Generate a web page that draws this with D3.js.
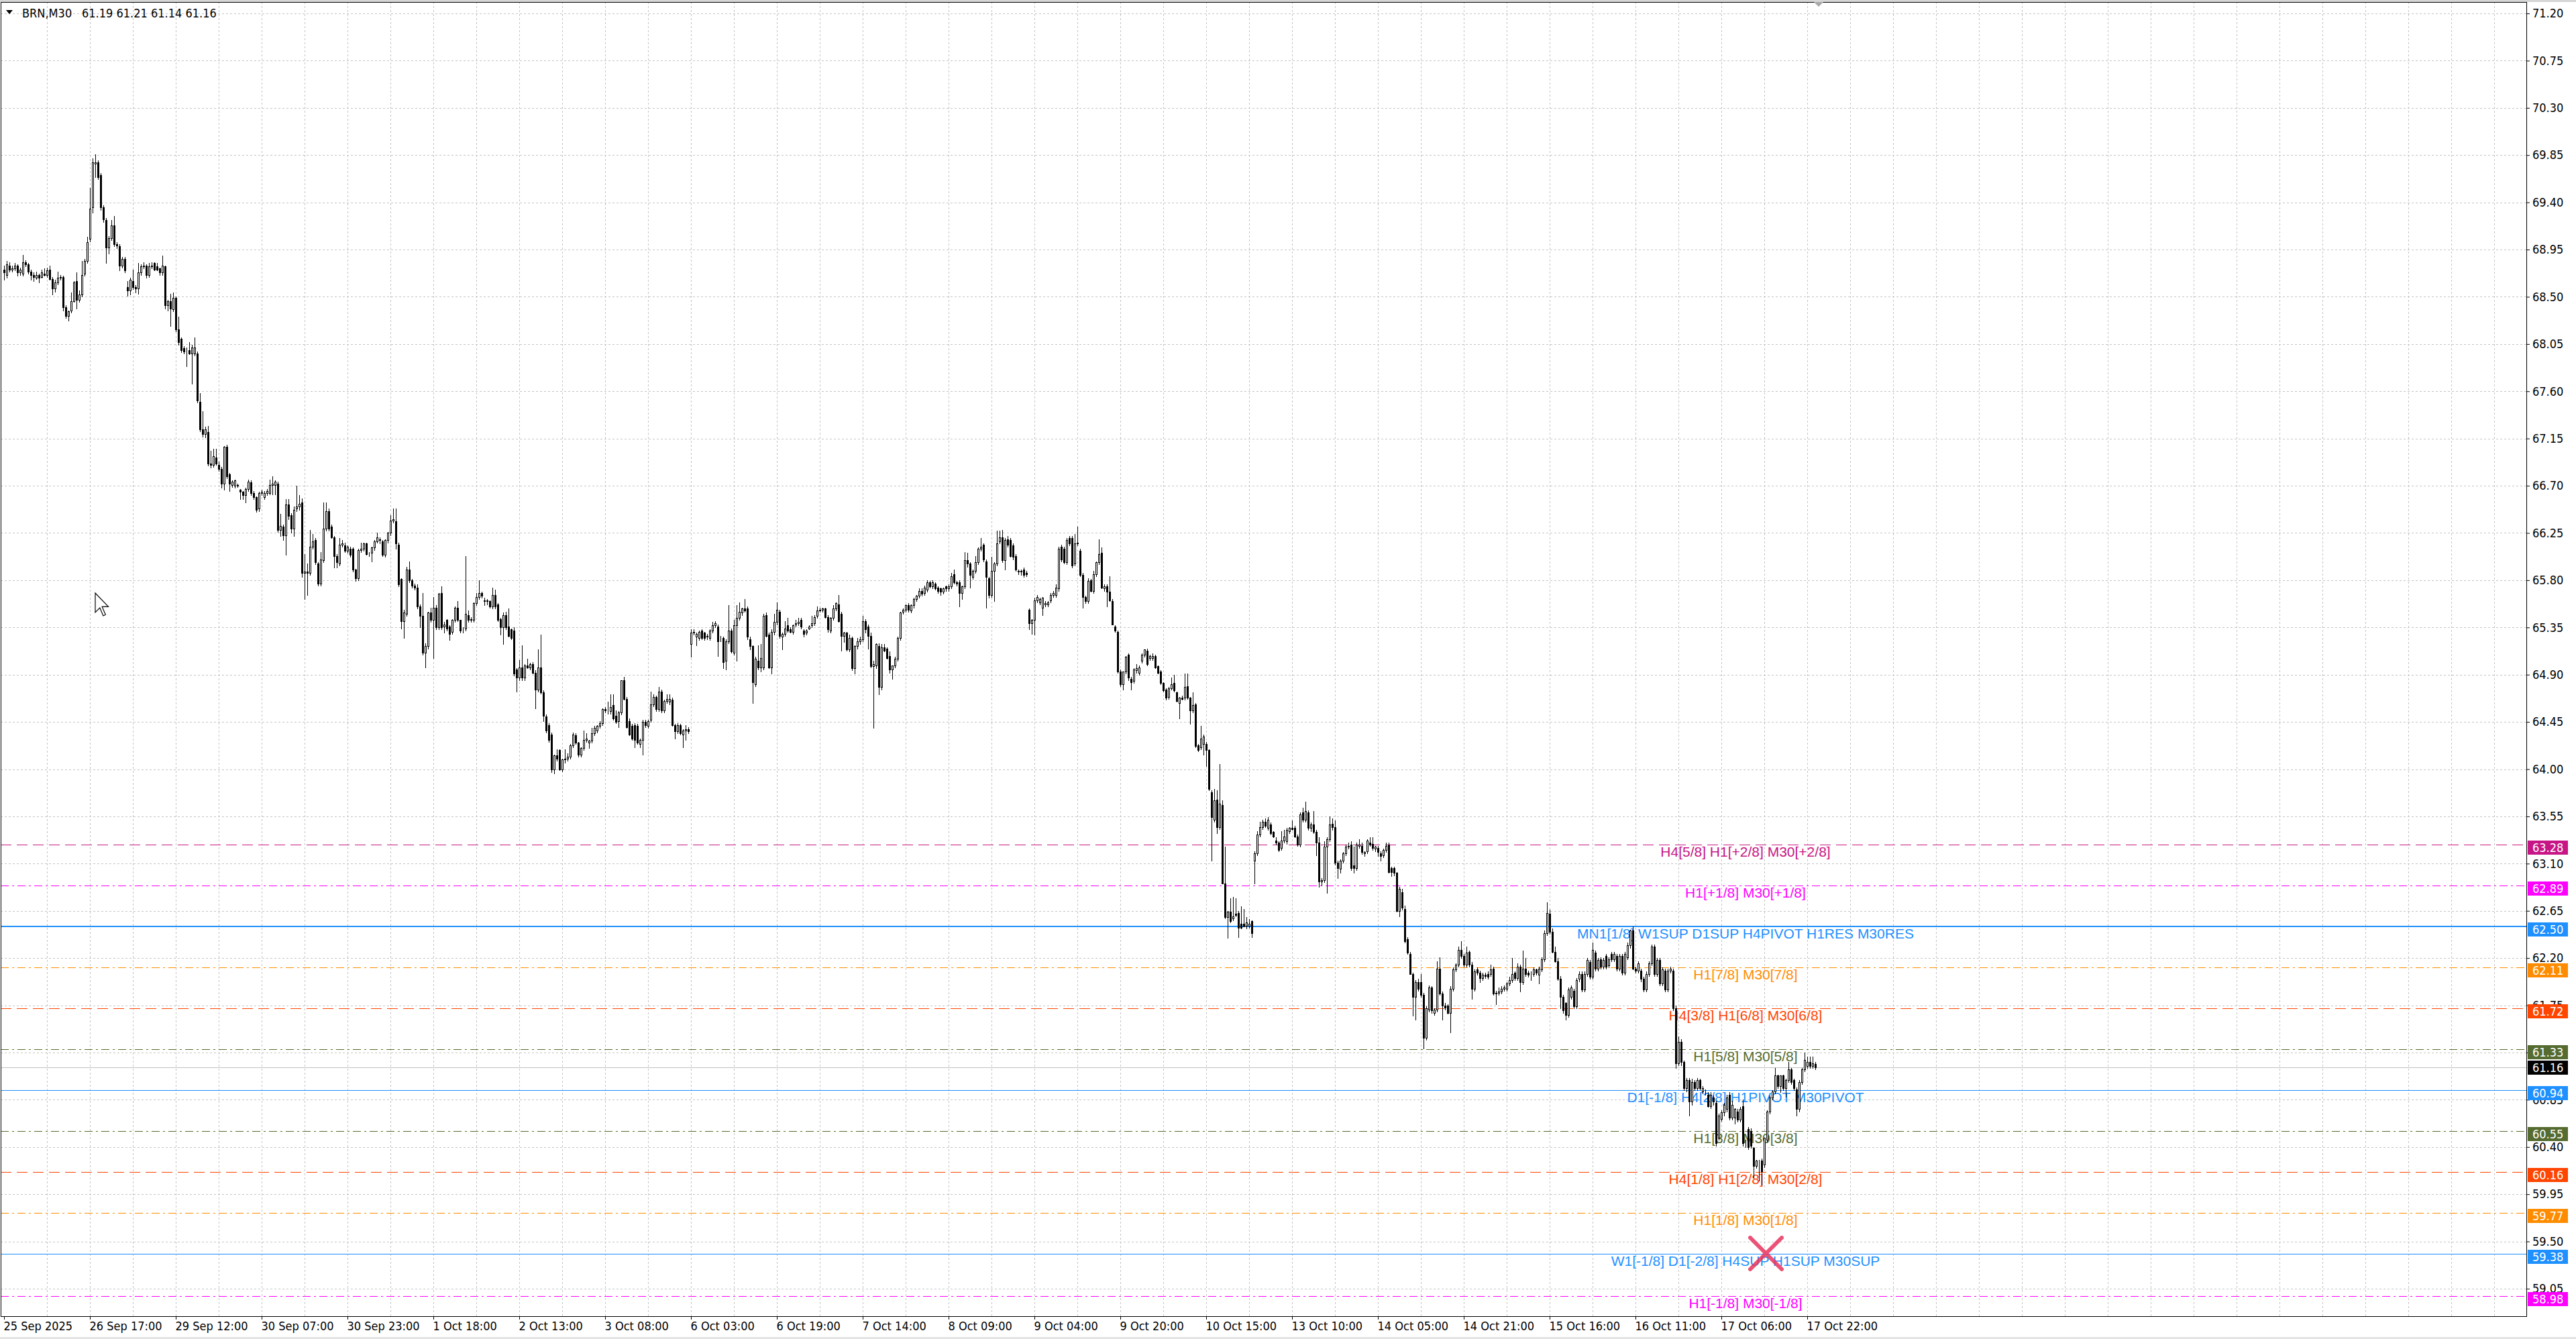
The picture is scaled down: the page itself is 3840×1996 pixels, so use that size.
<!DOCTYPE html>
<html>
<head>
<meta charset="utf-8">
<script src="https://cdn.jsdelivr.net/npm/d3@7"></script>
<style>
  html, body { margin: 0; padding: 0; background: #fff; }
  svg { display: block; }
</style>
</head>
<body>
<script>
// BRN, M30 candles: [open, high, low, close]
const candles01 = [
  [68.76,68.80,68.66,68.73],[68.71,68.84,68.68,68.81],[68.80,68.83,68.74,68.76],[68.76,68.80,68.74,68.77],[68.77,68.82,68.75,68.80],
  [68.80,68.81,68.70,68.73],[68.73,68.78,68.71,68.76],[68.72,68.90,68.70,68.83],[68.83,68.85,68.79,68.81],[68.81,68.82,68.72,68.74],
  [68.74,68.76,68.66,68.71],[68.71,68.73,68.65,68.69],[68.68,68.74,68.67,68.71],[68.71,68.72,68.64,68.68],[68.69,68.76,68.68,68.73],
  [68.72,68.77,68.70,68.71],[68.71,68.78,68.69,68.75],[68.76,68.80,68.66,68.67],[68.67,68.69,68.52,68.58],[68.58,68.66,68.55,68.64],
  [68.64,68.74,68.62,68.68],[68.68,68.71,68.66,68.69],[68.69,68.70,68.37,68.40],[68.40,68.42,68.30,68.32],[68.32,68.37,68.27,68.36],
  [68.37,68.54,68.35,68.46],[68.46,68.65,68.45,68.64],[68.65,68.73,68.39,68.47],[68.47,68.56,68.45,68.52],[68.52,68.84,68.50,68.71],
  [68.72,68.86,68.70,68.84],[68.84,69.07,68.82,69.02],[69.05,69.54,69.03,69.34],[69.35,69.82,69.30,69.78],[69.77,69.86,69.64,69.78],
  [69.78,69.80,69.62,69.64],[69.66,69.68,69.33,69.35],[69.35,69.37,69.21,69.24],[69.23,69.25,68.82,68.97],[68.97,69.08,68.91,69.06],
  [69.06,69.23,69.04,69.18],[69.18,69.27,68.98,69.00],[69.00,69.02,68.96,68.99],[68.98,69.00,68.75,68.80],[68.80,68.88,68.78,68.86],
  [68.86,68.88,68.73,68.75]
];
const candles02 = [
  [68.59,68.65,68.51,68.56],[68.56,68.68,68.52,68.66],[68.65,68.76,68.57,68.59],[68.59,68.61,68.54,68.58],[68.58,68.82,68.53,68.73],
  [68.73,68.81,68.71,68.79],[68.79,68.83,68.77,68.80],[68.80,68.81,68.68,68.71],[68.71,68.82,68.69,68.79],[68.79,68.83,68.77,68.80],
  [68.82,68.83,68.75,68.76],[68.79,68.82,68.75,68.76],[68.77,68.78,68.71,68.73],[68.73,68.89,68.71,68.80],[68.79,68.80,68.39,68.42],
  [68.42,68.47,68.37,68.46],[68.46,68.53,68.22,68.39],[68.38,68.54,68.36,68.49],[68.49,68.50,68.17,68.19],[68.19,68.31,68.04,68.07],
  [68.10,68.11,67.97,67.99],[68.01,68.03,67.96,67.98],[67.99,68.02,67.84,67.99],[67.99,68.07,67.95,67.96],[67.96,68.04,67.67,68.02],
  [67.96,68.11,67.94,68.02],[67.96,67.98,67.49,67.51],[67.50,67.58,67.22,67.24],[67.24,67.41,67.17,67.19],[67.19,67.26,67.16,67.24],
  [67.21,67.27,66.89,66.91],[66.91,67.03,66.87,66.90],[66.90,67.05,66.88,66.98],[66.97,67.05,66.90,66.91],[66.90,66.93,66.84,66.86],
  [66.86,66.88,66.68,66.72],[66.72,67.08,66.66,67.07],[67.07,67.09,66.77,66.79],[66.81,66.82,66.65,66.72],[66.71,66.75,66.69,66.74],
  [66.70,66.76,66.68,66.75],[66.71,66.72,66.69,66.70],[66.66,66.67,66.57,66.64],[66.64,66.65,66.57,66.61],[66.61,66.68,66.54,66.67],
  [66.67,66.76,66.65,66.74],[66.73,66.75,66.61,66.63],[66.63,66.65,66.57,66.59],[66.59,66.60,66.45,66.47],[66.48,66.64,66.46,66.63],
  [66.63,66.66,66.61,66.64],[66.59,66.65,66.57,66.63],[66.63,66.67,66.61,66.65],[66.63,66.76,66.62,66.71],[66.71,66.79,66.62,66.72]
];
const candles03 = [
  [66.71,66.75,66.62,66.74],[66.72,66.74,66.26,66.28],[66.28,66.43,66.22,66.32],[66.31,66.33,66.18,66.23],[66.23,66.57,66.04,66.52],
  [66.52,66.57,66.38,66.41],[66.42,66.44,66.25,66.29],[66.29,66.50,66.22,66.47],[66.48,66.70,66.46,66.50],[66.50,66.61,66.47,66.53],
  [66.54,66.58,65.83,65.87],[65.87,66.05,65.62,65.88],[65.88,65.96,65.66,65.87],[65.87,66.28,65.85,66.12],[66.12,66.24,66.10,66.17],
  [66.18,66.20,65.95,65.97],[65.96,65.97,65.75,65.77],[65.77,66.07,65.75,66.00],[65.99,66.54,65.97,66.29],[66.29,66.54,66.27,66.46],
  [66.46,66.48,66.27,66.29],[66.31,66.33,66.20,66.21],[66.21,66.22,65.92,66.03],[66.03,66.05,65.92,65.97],[65.96,66.20,65.94,66.14],
  [66.14,66.18,66.12,66.15],[66.13,66.16,66.07,66.08],[66.08,66.13,66.06,66.12],[66.10,66.12,66.02,66.04],[66.10,66.11,65.88,65.90],
  [65.90,65.91,65.79,65.82],[65.82,66.10,65.80,66.09],[66.09,66.16,66.07,66.10],[66.10,66.16,66.08,66.15],[66.15,66.16,66.04,66.05],
  [66.06,66.07,66.03,66.06],[66.06,66.12,65.98,66.11],[66.11,66.18,66.09,66.17],[66.17,66.25,66.16,66.21],[66.18,66.21,66.15,66.19],
  [66.17,66.18,66.03,66.04],[66.04,66.19,66.02,66.18],[66.18,66.26,66.16,66.25],[66.25,66.42,66.23,66.37],[66.37,66.48,66.35,66.38],
  [66.36,66.48,66.10,66.15],[66.14,66.16,65.74,65.76],[65.81,65.82,65.34,65.41],[65.41,65.52,65.25,65.49],[65.48,65.93,65.46,65.90]
];
const candles04 = [
  [65.90,65.98,65.78,65.80],[65.80,65.81,65.73,65.75],[65.75,65.77,65.71,65.73],[65.73,65.76,65.53,65.55],[65.55,65.57,65.35,65.46],
  [65.46,65.68,65.09,65.11],[65.11,65.20,64.97,65.17],[65.17,65.50,65.15,65.49],[65.49,65.54,65.40,65.42],[65.42,65.64,65.06,65.54],
  [65.54,65.56,65.33,65.35],[65.35,65.68,65.33,65.67],[65.68,65.74,65.33,65.35],[65.36,65.40,65.30,65.38],[65.42,65.43,65.32,65.34],
  [65.36,65.37,65.23,65.29],[65.31,65.43,65.29,65.42],[65.42,65.55,65.40,65.54],[65.54,65.60,65.41,65.42],[65.42,65.42,65.30,65.32],
  [65.33,65.35,65.30,65.33],[65.34,66.03,65.32,65.48],[65.47,65.51,65.40,65.42],[65.42,65.45,65.40,65.43],[65.42,65.59,65.40,65.58],
  [65.58,65.68,65.56,65.64],[65.64,65.80,65.62,65.68],[65.68,65.69,65.63,65.65],[65.60,65.63,65.56,65.61],[65.60,65.62,65.57,65.61],
  [65.60,65.61,65.54,65.55],[65.55,65.73,65.53,65.66],[65.66,65.71,65.53,65.55],[65.57,65.58,65.41,65.42],[65.43,65.44,65.28,65.35],
  [65.35,65.49,65.19,65.47],[65.47,65.50,65.33,65.35],[65.36,65.53,65.26,65.27],[65.33,65.34,65.24,65.25],[65.32,65.35,64.89,64.91],
  [64.95,64.96,64.74,64.87],[64.87,65.04,64.85,64.97],[64.97,65.18,64.85,64.87],[64.87,65.00,64.85,64.99],[64.99,65.05,64.96,64.97],
  [64.97,65.01,64.95,65.00],[65.00,65.02,64.91,64.92],[64.92,64.94,64.58,64.76],[64.76,65.14,64.74,64.97],[64.97,65.28,64.72,64.73]
];
const candles05 = [
  [64.73,64.75,64.46,64.51],[64.50,64.52,64.35,64.37],[64.42,64.44,64.26,64.28],[64.33,64.35,63.97,64.00],[64.00,64.14,63.96,64.13],
  [64.13,64.19,64.08,64.10],[64.18,64.19,63.99,64.00],[64.00,64.10,63.98,64.09],[64.09,64.19,64.06,64.10],[64.10,64.15,64.08,64.12],
  [64.12,64.24,64.10,64.23],[64.23,64.35,64.21,64.33],[64.32,64.34,64.24,64.25],[64.25,64.26,64.12,64.14],[64.14,64.21,64.12,64.20],
  [64.20,64.37,64.18,64.28],[64.28,64.34,64.26,64.29],[64.25,64.28,64.20,64.27],[64.27,64.39,64.25,64.34],[64.34,64.41,64.32,64.39],
  [64.37,64.42,64.35,64.41],[64.41,64.46,64.39,64.44],[64.44,64.58,64.42,64.57],[64.57,64.59,64.54,64.56],[64.55,64.64,64.53,64.55],
  [64.55,64.71,64.53,64.59],[64.61,64.71,64.47,64.48],[64.51,64.56,64.44,64.45],[64.46,64.55,64.40,64.54],[64.54,64.85,64.52,64.85],
  [64.85,64.88,64.66,64.67],[64.67,64.69,64.39,64.40],[64.46,64.48,64.32,64.33],[64.41,64.43,64.28,64.29],[64.42,64.44,64.21,64.28],
  [64.41,64.43,64.24,64.25],[64.24,64.29,64.21,64.28],[64.28,64.47,64.14,64.45],[64.45,64.47,64.40,64.42],[64.41,64.47,64.39,64.46],
  [64.47,64.74,64.45,64.62],[64.62,64.71,64.60,64.69],[64.69,64.70,64.55,64.57],[64.57,64.78,64.55,64.74],[64.74,64.76,64.54,64.56],
  [64.56,64.66,64.54,64.65],[64.65,64.71,64.63,64.67],[64.64,64.71,64.62,64.67],[64.66,64.68,64.41,64.42],[64.42,64.43,64.29,64.36],
  [64.36,64.44,64.34,64.42],[64.42,64.43,64.33,64.34],[64.33,64.38,64.21,64.37],[64.37,64.42,64.28,64.38],[64.38,64.40,64.34,64.36]
];
const candles06 = [
  [65.19,65.33,65.07,65.30],[65.30,65.33,65.28,65.31],[65.26,65.30,65.18,65.29],[65.25,65.32,65.23,65.31],[65.32,65.33,65.24,65.25],
  [65.30,65.31,65.23,65.25],[65.26,65.29,65.24,65.27],[65.25,65.33,65.23,65.32],[65.32,65.40,65.30,65.37],[65.37,65.41,65.35,65.39],
  [65.36,65.38,65.08,65.22],[65.25,65.27,65.22,65.25],[65.25,65.26,64.96,65.02],[65.03,65.24,64.95,65.22],[65.22,65.56,65.20,65.32],
  [65.32,65.34,65.11,65.12],[65.11,65.42,65.09,65.37],[65.37,65.56,65.03,65.44],[65.44,65.59,65.42,65.50],[65.49,65.54,65.47,65.53],
  [65.53,65.62,65.50,65.51],[65.53,65.55,65.24,65.26],[65.24,65.26,65.14,65.17],[65.17,65.18,64.63,64.83],[64.81,65.07,64.79,65.05],
  [65.03,65.18,64.95,64.97],[64.97,65.19,64.93,65.06],[64.97,65.48,64.95,65.46],[65.47,65.49,65.26,65.27],[65.28,65.30,64.96,64.97],
  [64.97,65.33,64.91,65.31],[65.31,65.48,65.28,65.40],[65.40,65.59,65.38,65.52],[65.50,65.52,65.25,65.27],[65.26,65.30,65.14,65.29],
  [65.29,65.41,65.27,65.34],[65.37,65.44,65.31,65.32],[65.33,65.35,65.30,65.31],[65.31,65.38,65.29,65.37],[65.38,65.42,65.36,65.39],
  [65.39,65.44,65.37,65.40],[65.42,65.44,65.34,65.36],[65.32,65.33,65.26,65.29],[65.30,65.33,65.28,65.32],[65.34,65.37,65.33,65.36],
  [65.37,65.46,65.35,65.39],[65.39,65.47,65.37,65.45],[65.46,65.55,65.44,65.51],[65.51,65.54,65.50,65.52],[65.52,65.54,65.50,65.53],
  [65.53,65.54,65.44,65.45],[65.45,65.47,65.31,65.33],[65.32,65.45,65.30,65.44],[65.44,65.56,65.42,65.53],[65.53,65.59,65.51,65.58]
];
const candles07 = [
  [65.57,65.66,65.40,65.41],[65.48,65.50,65.13,65.27],[65.27,65.31,65.21,65.30],[65.30,65.31,65.13,65.14],[65.14,65.28,65.12,65.25],
  [65.25,65.26,64.94,64.96],[64.96,65.18,64.91,65.17],[65.17,65.25,65.15,65.22],[65.22,65.26,65.19,65.24],[65.24,65.46,65.22,65.41],
  [65.41,65.43,65.30,65.33],[65.36,65.38,65.15,65.27],[65.27,65.30,64.97,64.98],[64.98,65.03,64.39,65.00],[64.99,65.20,64.96,65.19],
  [65.17,65.20,64.71,64.78],[64.78,65.19,64.76,65.16],[65.16,65.19,65.12,65.13],[65.15,65.16,65.05,65.06],[65.08,65.12,64.92,64.95],
  [64.95,64.99,64.86,64.99],[64.99,65.07,64.97,65.05],[65.05,65.26,65.03,65.25],[65.25,65.50,65.23,65.49],[65.50,65.53,65.48,65.52],
  [65.52,65.57,65.50,65.56],[65.56,65.58,65.50,65.52],[65.51,65.57,65.49,65.56],[65.56,65.63,65.54,65.62],[65.62,65.66,65.60,65.65],
  [65.65,65.72,65.63,65.70],[65.70,65.72,65.65,65.67],[65.68,65.75,65.66,65.73],[65.71,65.80,65.69,65.78],[65.78,65.79,65.73,65.74],
  [65.74,65.80,65.72,65.78],[65.77,65.78,65.71,65.72],[65.73,65.74,65.68,65.70],[65.72,65.73,65.66,65.69],[65.69,65.73,65.67,65.72],
  [65.74,65.75,65.70,65.72],[65.72,65.76,65.70,65.74],[65.74,65.87,65.72,65.84],[65.86,65.90,65.77,65.78],[65.78,65.79,65.75,65.77],
  [65.78,65.80,65.55,65.68],[65.68,65.75,65.62,65.74],[65.74,66.07,65.72,65.99],[65.99,66.06,65.93,65.96],[65.96,65.97,65.73,65.85],
  [65.83,65.90,65.81,65.89],[65.89,66.03,65.87,65.97],[65.97,66.11,65.95,66.10],[66.10,66.20,66.08,66.12],[66.14,66.15,65.98,66.00],
  [65.98,66.00,65.54,65.83],[65.82,65.83,65.63,65.66],[65.66,66.02,65.64,65.89],[65.89,65.97,65.60,65.96],[65.96,66.27,65.94,66.15],
  [66.17,66.27,66.15,66.21],[66.21,66.28,65.97,65.99],[65.99,66.20,65.90,66.18],[66.19,66.22,66.12,66.14],[66.18,66.20,66.02,66.03],
  [66.13,66.15,66.00,66.02],[66.03,66.05,65.89,65.90],[65.89,65.90,65.86,65.88],[65.88,65.90,65.85,65.89],[65.90,65.92,65.83,65.85],
  [65.87,65.89,65.84,65.86]
];
const candles08 = [
  [65.52,65.53,65.33,65.39],[65.39,65.43,65.29,65.42],[65.42,65.63,65.28,65.61],[65.61,65.66,65.59,65.64],[65.59,65.63,65.57,65.62],
  [65.54,65.64,65.47,65.63],[65.57,65.60,65.55,65.58],[65.57,65.60,65.55,65.59],[65.61,65.68,65.59,65.66],[65.66,65.70,65.64,65.68],
  [65.66,65.76,65.64,65.73],[65.72,66.12,65.70,66.10],[66.12,66.14,65.98,66.00],[66.10,66.12,65.96,65.97],[65.97,66.20,65.95,66.18],
  [66.20,66.22,66.13,66.15],[66.20,66.22,65.92,65.94],[65.96,66.24,65.94,66.15],[66.15,66.31,66.13,66.16],[66.08,66.10,65.84,65.85],
  [65.85,65.87,65.54,65.64],[65.64,65.65,65.58,65.60],[65.60,65.82,65.58,65.79],[65.80,65.81,65.69,65.70],[65.70,65.89,65.68,65.86],
  [65.86,65.98,65.84,65.97],[65.97,66.19,65.95,66.05],[66.06,66.11,65.72,65.73],[65.72,65.76,65.70,65.74],[65.74,65.76,65.55,65.69],
  [65.69,65.84,65.60,65.61],[65.60,65.62,65.38,65.38],[65.36,65.37,65.31,65.32],[65.31,65.32,64.92,64.93],[64.93,64.95,64.79,64.81],
  [64.81,64.93,64.76,64.93],[64.93,65.08,64.91,65.07],[65.09,65.10,64.85,64.87],[64.86,64.88,64.76,64.83],[64.84,64.96,64.82,64.95],
  [64.94,65.00,64.92,64.96],[64.92,64.99,64.90,64.97],[65.03,65.10,65.01,65.09],[65.09,65.14,65.07,65.14],[65.13,65.15,64.99,65.00],
  [65.06,65.09,65.04,65.08],[65.06,65.10,65.04,65.08],[65.08,65.09,64.96,64.97],[64.98,64.99,64.91,64.92],[64.93,64.94,64.81,64.82],
  [64.82,64.83,64.74,64.75],[64.76,64.77,64.66,64.68]
];
const candles09 = [
  [64.69,64.78,64.67,64.77],[64.77,64.87,64.76,64.81],[64.82,64.90,64.74,64.75],[64.73,64.74,64.64,64.65],[64.63,64.69,64.48,64.68],
  [64.68,64.70,64.66,64.67],[64.68,64.91,64.66,64.78],[64.79,64.91,64.67,64.68],[64.68,64.69,64.43,64.56],[64.56,64.73,64.54,64.61],
  [64.62,64.63,64.21,64.22],[64.23,64.24,64.17,64.18],[64.21,64.41,64.19,64.29],[64.24,64.33,64.14,64.31],[64.24,64.26,64.03,64.18],
  [64.18,64.19,63.80,63.81],[63.78,63.80,63.13,63.54],[63.52,63.81,63.50,63.70],[63.71,63.80,63.39,63.45],[63.45,64.05,63.43,63.67],
  [63.66,63.70,62.91,62.91],[62.91,63.26,62.58,62.59],[62.59,62.65,62.39,62.64],[62.64,62.77,62.54,62.55],[62.58,62.78,62.56,62.60],
  [62.62,62.77,62.60,62.61],[62.63,62.65,62.40,62.49],[62.53,62.69,62.48,62.49],[62.53,62.67,62.50,62.50],[62.51,62.59,62.48,62.54],
  [62.51,62.57,62.49,62.53],[62.55,62.56,62.40,62.44]
];
const candles10 = [
  [63.13,63.22,62.91,63.20],[63.20,63.41,63.18,63.38],[63.38,63.50,63.36,63.45],[63.45,63.52,63.43,63.50],[63.50,63.53,63.45,63.46],
  [63.44,63.54,63.42,63.52],[63.47,63.49,63.38,63.39],[63.40,63.41,63.35,63.36],[63.32,63.35,63.28,63.30],[63.30,63.31,63.22,63.23],
  [63.25,63.41,63.23,63.32],[63.32,63.42,63.30,63.36],[63.31,63.44,63.29,63.42],[63.41,63.45,63.39,63.44],[63.44,63.51,63.42,63.43],
  [63.44,63.46,63.35,63.36],[63.36,63.38,63.27,63.28],[63.28,63.59,63.26,63.57],[63.59,63.63,63.50,63.52],[63.52,63.69,63.50,63.60],
  [63.59,63.61,63.42,63.44],[63.44,63.49,63.41,63.47],[63.47,63.60,63.39,63.40],[63.40,63.42,63.18,63.30],[63.30,63.35,62.88,62.93],
  [62.93,62.96,62.89,62.94],[62.94,63.31,62.92,63.26],[63.26,63.35,62.82,63.33],[63.33,63.55,63.31,63.47],[63.48,63.53,63.42,63.45],
  [63.45,63.51,63.09,63.11],[63.11,63.13,62.96,63.06],[63.05,63.14,63.01,63.13],[63.13,63.21,63.11,63.20],[63.20,63.28,63.18,63.26],
  [63.26,63.30,63.24,63.27],[63.28,63.31,63.04,63.06],[63.08,63.26,63.01,63.06],[63.06,63.30,63.04,63.28],[63.27,63.33,63.25,63.28],
  [63.27,63.30,63.19,63.21],[63.20,63.22,63.17,63.21],[63.22,63.33,63.20,63.32],[63.30,63.35,63.27,63.28],[63.29,63.35,63.23,63.25],
  [63.24,63.27,63.22,63.26],[63.25,63.27,63.17,63.21],[63.20,63.22,63.13,63.17],[63.18,63.24,63.16,63.23],[63.23,63.30,63.21,63.27],
  [63.28,63.30,63.01,63.02],[63.06,63.07,62.98,63.02],[63.06,63.07,62.99,63.01],[63.01,63.02,62.64,62.65],[62.65,62.88,62.60,62.86]
];
const candles11 = [
  [62.83,62.86,62.66,62.68],[62.67,62.70,62.35,62.36],[62.38,62.40,62.24,62.25],[62.24,62.26,62.05,62.05],[62.05,62.06,61.65,61.83],
  [61.83,61.99,61.61,61.97],[61.97,62.00,61.89,61.91],[61.97,62.05,61.83,61.85],[61.85,61.87,61.34,61.44],[61.44,61.74,61.42,61.72],
  [61.71,61.94,61.69,61.92],[61.92,61.93,61.68,61.70],[61.68,61.72,61.66,61.71],[61.71,62.17,61.69,62.10],[62.10,62.21,61.85,61.86],
  [61.86,61.88,61.61,61.75],[61.75,61.77,61.71,61.73],[61.75,61.76,61.67,61.68],[61.68,61.93,61.49,61.91],[61.91,62.11,61.89,62.09],
  [62.09,62.15,62.07,62.14],[62.14,62.31,62.12,62.28],[62.28,62.36,62.20,62.22],[62.22,62.24,62.12,62.14],[62.14,62.31,62.12,62.25],
  [62.26,62.27,62.12,62.14],[62.14,62.16,61.81,61.91],[61.91,62.09,61.89,62.07],[62.09,62.11,62.04,62.06],[62.06,62.08,61.97,62.01],
  [62.01,62.06,61.99,62.04],[62.04,62.06,62.01,62.03],[62.05,62.07,62.00,62.02],[62.05,62.14,62.03,62.09],[62.10,62.12,61.85,61.86],
  [61.87,61.89,61.76,61.86],[61.87,61.92,61.85,61.88],[61.88,61.93,61.86,61.91],[61.91,61.94,61.89,61.92],[61.91,61.97,61.89,61.96],
  [61.96,62.02,61.94,61.99],[61.99,62.20,61.97,62.05],[62.06,62.07,61.99,62.01],[62.01,62.15,61.99,62.12],[62.12,62.14,61.88,61.97],
  [61.97,62.27,61.95,62.10],[62.10,62.20,62.03,62.05],[62.06,62.08,62.02,62.04],[62.05,62.07,61.99,62.05],[62.05,62.11,62.03,62.09],
  [62.09,62.10,62.04,62.06],[62.04,62.12,61.96,62.10],[62.09,62.21,62.07,62.19],[62.19,62.46,62.17,62.44],[62.44,62.73,62.42,62.63],
  [62.62,62.66,62.43,62.45],[62.45,62.48,62.25,62.26],[62.26,62.31,62.16,62.17],[62.17,62.20,61.99,62.00],[62.00,62.03,61.72,61.83],
  [61.83,61.85,61.68,61.70],[61.77,61.78,61.61,61.66],[61.66,61.92,61.64,61.90]
];
const candles12 = [
  [61.83,61.94,61.81,61.92],[61.89,61.91,61.72,61.74],[61.74,62.01,61.72,61.99],[62.00,62.07,61.98,62.05],[62.05,62.07,61.88,61.90],
  [61.90,62.07,61.88,62.05],[62.05,62.20,62.03,62.18],[62.16,62.18,62.00,62.02],[62.02,62.35,62.00,62.28],[62.25,62.27,62.08,62.10],
  [62.10,62.20,62.08,62.18],[62.19,62.21,62.10,62.12],[62.12,62.20,62.10,62.18],[62.22,62.24,62.10,62.12],[62.13,62.21,62.11,62.19],
  [62.24,62.26,62.17,62.19],[62.19,62.26,62.17,62.24],[62.22,62.24,62.08,62.10],[62.10,62.24,62.08,62.22],[62.22,62.24,62.04,62.06],
  [62.06,62.26,62.04,62.24],[62.21,62.35,62.19,62.32],[62.32,62.47,62.30,62.46],[62.46,62.50,62.09,62.10],[62.10,62.12,62.06,62.08],
  [62.08,62.17,62.06,62.15],[62.08,62.10,61.98,62.00],[62.00,62.02,61.88,61.90],[61.90,62.07,61.88,62.05],[62.05,62.17,62.03,62.15],
  [62.15,62.33,62.13,62.31],[62.31,62.33,62.03,62.05],[62.05,62.20,62.03,62.18],[62.18,62.20,61.94,61.96],[61.96,62.11,61.94,62.09],
  [62.08,62.10,61.88,61.90],[61.90,62.10,61.88,62.08],[62.08,62.12,62.06,62.10],[62.08,62.10,61.70,61.72],[61.72,61.75,61.15,61.20],
  [61.20,61.45,61.18,61.40],[61.40,61.43,61.18,61.21],[61.21,61.22,60.94,60.96],[60.96,61.06,60.93,61.04],[61.04,61.06,60.70,60.83],
  [60.83,61.05,60.80,61.02],[61.02,61.04,60.94,60.96],[60.96,61.06,60.94,61.04],[61.04,61.05,60.95,60.96],[60.93,60.98,60.91,60.96],
  [60.93,60.95,60.90,60.93],[60.90,60.92,60.78,60.79],[60.79,60.92,60.77,60.90],[60.87,60.89,60.80,60.83],[60.82,60.84,60.41,60.44],
  [60.49,60.72,60.47,60.70],[60.67,60.75,60.65,60.73],[60.73,60.82,60.70,60.80],[60.76,60.90,60.74,60.87],[60.90,60.92,60.66,60.68],
  [60.68,60.84,60.66,60.80],[60.68,60.77,60.62,60.76],[60.74,60.76,60.64,60.66],[60.66,60.78,60.64,60.76],[60.79,60.85,60.41,60.44],
  [60.44,60.47,60.40,60.44],[60.57,60.59,60.38,60.40],[60.55,60.58,60.39,60.41],[60.39,60.40,60.11,60.22],[60.22,60.28,60.20,60.27],
  [60.26,60.28,60.08,60.26],[60.27,60.29,60.04,60.17],[60.23,60.49,60.21,60.49],[60.47,60.75,60.45,60.74],[60.74,60.89,60.72,60.87],
  [60.87,60.94,60.85,60.93],[60.93,61.15,60.91,61.08],[61.08,61.09,60.96,60.98],[60.98,61.08,60.92,61.08],[61.08,61.09,60.94,60.96],
  [60.96,61.05,60.88,61.04],[61.04,61.21,61.02,61.14],[61.14,61.15,61.00,61.02],[61.04,61.05,60.94,60.96],[60.95,60.97,60.70,60.76],
  [60.76,61.04,60.74,61.02],[61.02,61.15,61.00,61.14],[61.14,61.30,61.12,61.23],[61.17,61.26,61.15,61.21],[61.21,61.26,61.15,61.17],
  [61.17,61.26,61.15,61.20],[61.19,61.21,61.14,61.16]
];

// Axis labels
const priceTicks = [71.20,70.75,70.30,69.85,69.40,68.95,68.50,68.05,67.60,67.15,66.70,66.25,65.80,65.35,
                    64.90,64.45,64.00,63.55,63.10,62.65,62.20,61.75,61.30,60.85,60.40,59.95,59.50,59.05];
const timeLabels = ["25 Sep 2025","26 Sep 17:00","29 Sep 12:00","30 Sep 07:00","30 Sep 23:00","1 Oct 18:00",
                    "2 Oct 13:00","3 Oct 08:00","6 Oct 03:00","6 Oct 19:00","7 Oct 14:00","8 Oct 09:00",
                    "9 Oct 04:00","9 Oct 20:00","10 Oct 15:00","13 Oct 10:00","14 Oct 05:00","14 Oct 21:00",
                    "15 Oct 16:00","16 Oct 11:00","17 Oct 06:00","17 Oct 22:00"];

// Murrey-style levels drawn on the chart
const levelPrices = [63.28, 62.89, 62.50, 62.11, 61.72, 61.33, 60.94, 60.55, 60.16, 59.77, 59.38, 58.98];
const levelNames = [
  "H4[5/8] H1[+2/8] M30[+2/8]",
  "H1[+1/8] M30[+1/8]",
  "MN1[1/8] W1SUP D1SUP H4PIVOT H1RES M30RES",
  "H1[7/8] M30[7/8]",
  "H4[3/8] H1[6/8] M30[6/8]",
  "H1[5/8] M30[5/8]",
  "D1[-1/8] H4[2/8] H1PIVOT M30PIVOT",
  "H1[3/8] M30[3/8]",
  "H4[1/8] H1[2/8] M30[2/8]",
  "H1[1/8] M30[1/8]",
  "W1[-1/8] D1[-2/8] H4SUP H1SUP M30SUP",
  "H1[-1/8] M30[-1/8]"
];

// styles for the levels, same order
const DASH = "16,8", DASHDOT = "12,5,3,5";
const levelStyle = [
  {c: "#C71585", dash: DASH,    w: 1},
  {c: "#FF00FF", dash: DASHDOT, w: 1},
  {c: "#1E90FF", dash: null,    w: 2},
  {c: "#FF8C00", dash: DASHDOT, w: 1},
  {c: "#FF4500", dash: DASH,    w: 1},
  {c: "#556B2F", dash: DASHDOT, w: 1},
  {c: "#1E90FF", dash: null,    w: 1},
  {c: "#556B2F", dash: DASHDOT, w: 1},
  {c: "#FF4500", dash: DASH,    w: 1},
  {c: "#FF8C00", dash: DASHDOT, w: 1},
  {c: "#1E90FF", dash: null,    w: 1},
  {c: "#FF00FF", dash: DASHDOT, w: 1}
];

const W = 3840, H = 1996;
const plotL = 1, plotT = 3, plotR = 3766, plotB = 1962;
const axisFont = "'DejaVu Sans Condensed','DejaVu Sans',sans-serif";
const labelFont = "'Liberation Sans',Arial,sans-serif";

const bars = [].concat(candles01, candles02, candles03, candles04, candles05, candles06,
                       candles07, candles08, candles09, candles10, candles11, candles12);
const last = bars[bars.length - 1];

const x = d3.scaleLinear().domain([0, bars.length - 1]).range([6, 6 + 4 * (bars.length - 1)]);
const y = d3.scaleLinear().domain([71.20, 59.05]).range([20, 1921]);
const crisp = v => Math.round(v) + 0.5;

const svg = d3.select("body").append("svg")
    .attr("width", W)
    .attr("height", H)
    .attr("viewBox", [0, 0, W, H]);

svg.append("rect").attr("width", W).attr("height", H).attr("fill", "#fff");

// window edges
svg.append("rect").attr("x", 0).attr("y", 0).attr("width", W).attr("height", 3).attr("fill", "#d6d6d6");
svg.append("rect").attr("x", 0).attr("y", 1993).attr("width", W).attr("height", 3).attr("fill", "#e4e4e4");

// grid
const grid = svg.append("g")
    .attr("stroke", "#c4c4c4")
    .attr("stroke-dasharray", "3,3")
    .attr("shape-rendering", "crispEdges");
grid.selectAll(".hg").data(priceTicks).join("line")
    .attr("class", "hg")
    .attr("x1", plotL).attr("x2", plotR)
    .attr("y1", d => crisp(y(d))).attr("y2", d => crisp(y(d)));
const vBars = d3.range(16, 1000, 16).filter(b => x(b) < plotR - 2);
grid.selectAll(".vg").data(vBars).join("line")
    .attr("class", "vg")
    .attr("x1", d => x(d) + 0.5).attr("x2", d => x(d) + 0.5)
    .attr("y1", plotT).attr("y2", plotB);

// level lines
const lv = svg.append("g").attr("shape-rendering", "crispEdges");
lv.selectAll("line").data(levelPrices).join("line")
    .attr("x1", plotL).attr("x2", plotR)
    .attr("y1", (d, i) => levelStyle[i].w === 2 ? Math.round(y(d)) : crisp(y(d)))
    .attr("y2", (d, i) => levelStyle[i].w === 2 ? Math.round(y(d)) : crisp(y(d)))
    .attr("stroke", (d, i) => levelStyle[i].c)
    .attr("stroke-width", (d, i) => levelStyle[i].w)
    .attr("stroke-dasharray", (d, i) => levelStyle[i].dash);

// current price line
svg.append("line")
    .attr("x1", plotL).attr("x2", plotR)
    .attr("y1", crisp(y(last[3]))).attr("y2", crisp(y(last[3])))
    .attr("stroke", "#c0c0c0")
    .attr("shape-rendering", "crispEdges");

// level labels
svg.append("g")
    .attr("font-family", labelFont)
    .attr("font-size", 21)
    .attr("text-anchor", "middle")
  .selectAll("text").data(levelPrices).join("text")
    .attr("x", 2602)
    .attr("y", d => y(d) + 18)
    .attr("fill", (d, i) => levelStyle[i].c)
    .text((d, i) => levelNames[i]);

// candles
const cg = svg.append("g").attr("shape-rendering", "crispEdges");
cg.selectAll(".wick").data(bars).join("line")
    .attr("class", "wick")
    .attr("x1", (d, i) => x(i) + 0.5).attr("x2", (d, i) => x(i) + 0.5)
    .attr("y1", d => Math.round(y(d[1]))).attr("y2", d => Math.round(y(d[2])) + 1)
    .attr("stroke", "#000");
cg.selectAll(".body").data(bars).join("rect")
    .attr("class", "body")
    .attr("x", (d, i) => x(i) - 0.5)
    .attr("width", 2)
    .attr("y", d => Math.round(y(Math.max(d[0], d[3]))) + 0.5)
    .attr("height", d => Math.max(0, Math.round(y(Math.min(d[0], d[3]))) - Math.round(y(Math.max(d[0], d[3])))))
    .attr("fill", d => d[3] >= d[0] ? "#fff" : "#000")
    .attr("stroke", "#000");

// red cross marker
const xm = svg.append("g").attr("stroke", "#e8345e").attr("stroke-width", 6)
    .attr("stroke-linecap", "round").attr("opacity", 0.85);
xm.append("line").attr("x1", 2609).attr("y1", 1845).attr("x2", 2656).attr("y2", 1892);
xm.append("line").attr("x1", 2656).attr("y1", 1845).attr("x2", 2609).attr("y2", 1892);

// frame
svg.append("rect")
    .attr("x", plotL + 0.5).attr("y", plotT + 0.5)
    .attr("width", plotR - plotL).attr("height", plotB - plotT)
    .attr("fill", "none").attr("stroke", "#000")
    .attr("shape-rendering", "crispEdges");

// price axis
const yAxis = d3.axisRight(y)
    .tickValues(priceTicks)
    .tickFormat(d3.format(".2f"))
    .tickSize(5)
    .tickPadding(4);
svg.append("g")
    .attr("transform", `translate(${plotR},0)`)
    .call(yAxis)
    .call(g => g.select(".domain").remove())
    .attr("font-family", axisFont)
    .attr("font-size", 18)
    .call(g => g.selectAll("line").attr("stroke", "#000"))
    .call(g => g.selectAll("text").attr("fill", "#000"));

// time axis
const labelBars = timeLabels.map((t, i) => i * 32);
const xAxis = d3.axisBottom(x)
    .tickValues(labelBars)
    .tickFormat((d, i) => timeLabels[i])
    .tickSize(5)
    .tickPadding(3);
svg.append("g")
    .attr("transform", `translate(0,${plotB})`)
    .call(xAxis)
    .call(g => g.select(".domain").remove())
    .attr("font-family", axisFont)
    .attr("font-size", 18)
    .call(g => g.selectAll("line").attr("stroke", "#000"))
    .call(g => g.selectAll("text").attr("fill", "#000").attr("text-anchor", "start").attr("x", -1));

// price tags on the axis
const tags = svg.append("g").attr("font-family", axisFont).attr("font-size", 18);
tags.selectAll("rect").data(levelPrices).join("rect")
    .attr("x", plotR + 2).attr("width", 60)
    .attr("y", d => Math.round(y(d)) - 6).attr("height", 21)
    .attr("fill", (d, i) => levelStyle[i].c);
tags.selectAll("text").data(levelPrices).join("text")
    .attr("x", plotR + 9)
    .attr("y", d => Math.round(y(d)) + 4.5)
    .attr("dy", "0.35em")
    .attr("fill", "#fff")
    .text(d => d.toFixed(2));
tags.append("rect")
    .attr("x", plotR + 2).attr("width", 60)
    .attr("y", Math.round(y(last[3])) - 10).attr("height", 21)
    .attr("fill", "#000");
tags.append("text")
    .attr("x", plotR + 9)
    .attr("y", Math.round(y(last[3])) + 0.5)
    .attr("dy", "0.35em")
    .attr("fill", "#fff")
    .text(last[3].toFixed(2));

// header
svg.append("path").attr("d", "M9,15 L19,15 L14,21 Z").attr("fill", "#000");
const head = svg.append("g").attr("font-family", axisFont).attr("font-size", 18).attr("fill", "#000");
head.append("text").attr("x", 33).attr("y", 26).text("BRN,M30");
head.append("text").attr("x", 122).attr("y", 26)
    .text([last[0], last[1], last[2], last[3]].map(v => v.toFixed(2)).join(" "));

// chart shift marker
svg.append("path").attr("d", "M2704,3 L2718,3 L2711,10 Z").attr("fill", "#a8a8a8");

// mouse pointer
svg.append("path")
    .attr("transform", "translate(142,884) scale(1.7)")
    .attr("d", "M0,0 L0,17 L4,13 L7,20 L9,19 L6,12 L11.5,12 Z")
    .attr("fill", "#fff").attr("stroke", "#000").attr("stroke-width", 0.7);
</script>
</body>
</html>
